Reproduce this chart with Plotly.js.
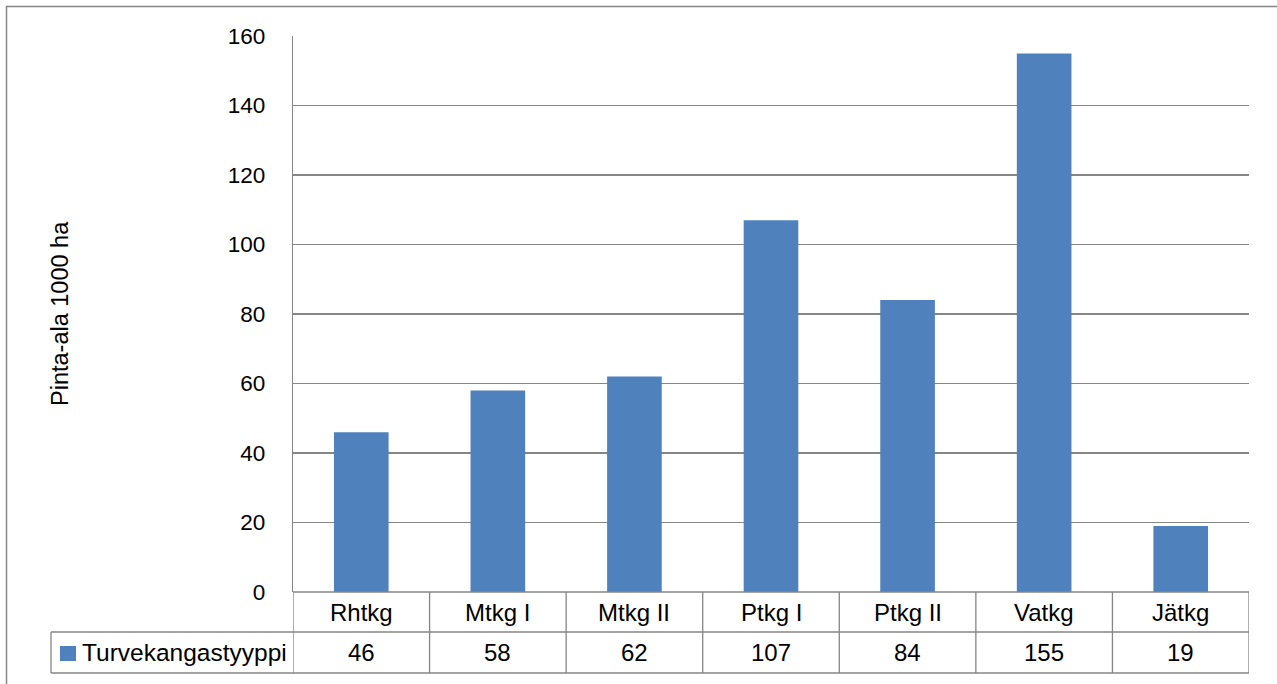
<!DOCTYPE html>
<html>
<head>
<meta charset="utf-8">
<script src="https://cdn.plot.ly/plotly-3.0.1.min.js"></script>
<style>
  html, body { margin: 0; padding: 0; background: #fff; }
  #chart { width: 1277px; height: 684px; }
</style>
</head>
<body>
<div id="chart"></div>
<script>
// Peatland forest site types and their area (1000 ha)
const categories = ['Rhtkg', 'Mtkg I', 'Mtkg II', 'Ptkg I', 'Ptkg II', 'Vatkg', 'Jätkg'];
const areaValues = [46, 58, 62, 107, 84, 155, 19];
const seriesName = 'Turvekangastyyppi';
const yTickValues = [0, 20, 40, 60, 80, 100, 120, 140, 160];
const yAxisTitle = 'Pinta-ala 1000 ha';

const FONT = 'Liberation Sans, Arial, sans-serif';
const LINE = '#868686';
const BAR = '#4F81BD';

// Plot area in page pixels
const W = 1277, H = 684;
const L = 293, R = 1249, T = 36, B = 592;
const PW = R - L, PH = B - T;
const px = x => (x - L) / PW;
const py = y => (B - y) / PH;

// Data-table rows below the plot
const rowTop = 592, rowMid = 632, rowBot = 673;
const legendLeft = 51;

const shapes = [];
const hline = (x0, x1, y) => shapes.push({type: 'line', xref: 'paper', yref: 'paper',
  x0: px(x0), x1: px(x1), y0: py(y), y1: py(y), line: {color: LINE, width: 1.3}});

hline(L, R, rowTop);
hline(legendLeft, R, rowMid);
hline(legendLeft, R, rowBot);
// legend cell left edge
shapes.push({type: 'line', xref: 'paper', yref: 'paper',
  x0: px(legendLeft), x1: px(legendLeft), y0: py(rowMid), y1: py(rowBot),
  line: {color: LINE, width: 1.3}});
// category column separators
for (let i = 0; i <= categories.length; i++) {
  shapes.push({type: 'line', xref: 'x', yref: 'paper',
    x0: i - 0.5, x1: i - 0.5, y0: py(rowTop), y1: py(rowBot),
    line: {color: LINE, width: 1.3}});
}
// legend key
shapes.push({type: 'rect', xref: 'paper', yref: 'paper',
  x0: px(60), x1: px(76), y0: py(646), y1: py(661),
  fillcolor: BAR, line: {width: 0}});
// outer chart frame
shapes.push({type: 'rect', xref: 'paper', yref: 'paper',
  x0: px(6.5), x1: px(1300), y0: py(6.5), y1: py(700),
  line: {color: LINE, width: 1.5}, fillcolor: 'rgba(0,0,0,0)'});

const cellFont = {family: FONT, size: 24, color: '#000'};
const annotations = [];
categories.forEach((c, i) => {
  annotations.push({xref: 'x', yref: 'paper', x: i, y: py((rowTop + rowMid) / 2),
    text: c, showarrow: false, xanchor: 'center', yanchor: 'middle', font: cellFont});
  annotations.push({xref: 'x', yref: 'paper', x: i, y: py((rowMid + rowBot) / 2),
    text: String(areaValues[i]), showarrow: false, xanchor: 'center', yanchor: 'middle',
    font: cellFont});
});
annotations.push({xref: 'paper', yref: 'paper', x: px(80), y: py((rowMid + rowBot) / 2),
  text: seriesName, showarrow: false, xanchor: 'left', yanchor: 'middle',
  font: {family: FONT, size: 24.5, color: '#000'}});
annotations.push({xref: 'paper', yref: 'paper', x: px(60), y: 0.5,
  text: yAxisTitle, textangle: -90, showarrow: false, xanchor: 'center', yanchor: 'middle',
  font: {family: FONT, size: 23.5, color: '#000'}});

const trace = {
  type: 'bar',
  x: categories,
  y: areaValues,
  name: seriesName,
  marker: {color: BAR},
  hoverinfo: 'x+y'
};

const layout = {
  width: W, height: H,
  margin: {l: L, r: W - R, t: T, b: H - B, pad: 0},
  paper_bgcolor: '#fff', plot_bgcolor: '#fff',
  showlegend: false,
  bargap: 0.6,
  font: {family: FONT, size: 22, color: '#000'},
  xaxis: {
    type: 'category', range: [-0.5, categories.length - 0.5],
    showticklabels: false, ticks: '', showgrid: false, zeroline: false,
    showline: false, fixedrange: true
  },
  yaxis: {
    range: [0, 160], tickvals: yTickValues, ticktext: yTickValues.map(String),
    showgrid: true, gridcolor: LINE, gridwidth: 1.3,
    zeroline: false, showline: true, linecolor: LINE, linewidth: 1.3,
    ticks: 'outside', ticklen: 22, tickcolor: 'rgba(0,0,0,0)',
    tickfont: {family: FONT, size: 22.5, color: '#000'}, fixedrange: true
  },
  shapes: shapes,
  annotations: annotations
};

Plotly.newPlot('chart', [trace], layout, {displayModeBar: false, staticPlot: true});
</script>
</body>
</html>
